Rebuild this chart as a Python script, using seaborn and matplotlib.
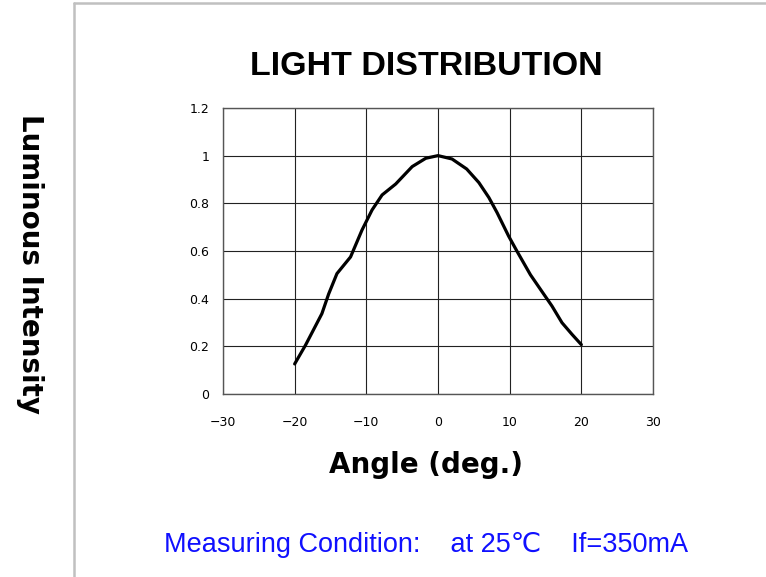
import matplotlib
matplotlib.use("Agg")
import matplotlib.pyplot as plt
from matplotlib.lines import Line2D
import seaborn as sns
import pandas as pd

# values
angle = [-20.0, -18.5, -16.2, -15.25, -14.1, -12.2, -10.6, -9.2, -7.8, -5.9, -3.6, -1.7,
         0.0, 1.95, 4.0, 5.7, 7.1, 8.24, 9.86, 11.0, 12.9, 14.5, 15.9, 17.3, 18.7, 20.0]
intensity = [0.126, 0.204, 0.337, 0.42, 0.505, 0.575, 0.688, 0.772, 0.835, 0.881, 0.954, 0.989,
             1.0, 0.986, 0.944, 0.887, 0.824, 0.761, 0.662, 0.60, 0.50, 0.43, 0.369, 0.299, 0.25, 0.207]

x_ticks = [-30, -20, -10, 0, 10, 20, 30]
y_ticks = [0, 0.2, 0.4, 0.6, 0.8, 1.0, 1.2]
y_tick_labels = ["0", "0.2", "0.4", "0.6", "0.8", "1", "1.2"]

df = pd.DataFrame({"angle": angle, "intensity": intensity})

sns.set_style("white")
plt.rcParams['font.family'] = ['DejaVu Sans']
plt.rcParams['text.color'] = 'black'

fig = plt.figure(figsize=(7.66, 5.77), dpi=100)
ax = fig.add_axes([0.2911, 0.3172, 0.5614, 0.4957])

sns.lineplot(data=df, x="angle", y="intensity", sort=False, color="black", lw=2.3, ax=ax)

ax.set_xlim(-30, 30)
ax.set_ylim(0, 1.2)
ax.set_xticks(x_ticks)
ax.set_yticks(y_ticks)
ax.set_yticklabels(y_tick_labels)
ax.tick_params(axis="both", length=0, labelsize=9, colors="black")
ax.tick_params(axis="x", pad=16)
ax.tick_params(axis="y", pad=10)
ax.grid(True, color="#222222", lw=0.8)
for s in ax.spines.values():
    s.set_color("#555555")
    s.set_linewidth(1.0)
ax.set_xlabel("")
ax.set_ylabel("")

fig.text(0.556, 0.885, "LIGHT DISTRIBUTION", ha="center", va="center", color="black",
         fontsize=24.5, fontweight="bold", family=["Liberation Sans", "DejaVu Sans"])
fig.text(0.556, 0.194, "Angle (deg.)", ha="center", va="center", fontsize=20,
         fontweight="bold", color="black")
fig.text(0.039, 0.543, "Luminous Intensity", ha="center", va="center", rotation=270,
         fontsize=20, fontweight="bold", color="black")
fig.text(0.556, 0.056, "Measuring Condition:    at 25\u2103    If=350mA", ha="center", va="center",
         fontsize=19.5, color="#1010ff", family=["Liberation Sans", "DejaVu Sans"])

# gray frame on left and top
fig.add_artist(Line2D([0.0966, 0.0966], [0.0, 0.995], color="#c0c0c0", lw=1.8, transform=fig.transFigure))
fig.add_artist(Line2D([0.0966, 1.0], [0.995, 0.995], color="#c0c0c0", lw=1.8, transform=fig.transFigure))

fig.savefig("out.png", dpi=100)
